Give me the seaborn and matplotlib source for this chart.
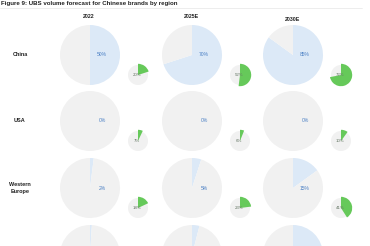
import matplotlib
matplotlib.use("Agg")
import matplotlib.pyplot as plt
import seaborn as sns

sns.set_theme(style="white")
plt.rcParams['font.family'] = ['Liberation Sans', 'DejaVu Sans']

title = "Figure 9: UBS volume forecast for Chinese brands by region"
years = ["2022", "2025E", "2030E"]
regions = ["China", "USA", "Western\nEurope", ""]
# big pie: share of Chinese brands in domestic market volume (%)
share_big = [
    [50, 70, 85],
    [0, 0, 0],
    [2, 5, 15],
    [1, 4, 25],
]
# small pie: Chinese brands share (%)
share_small = [
    [20, 52, 72],
    [7, 6, 10],
    [18, 23, 41],
    [10, 15, 30],
]

grey = "#f1f1f1"
blue = "#dce9f7"
green = "#66c95a"
lbl_blue = "#4a7fc4"
lbl_small = "#667766"

W, H = 370, 246
fig = plt.figure(figsize=(W / 100, H / 100), dpi=100)
ax = fig.add_axes([0, 0, 1, 1])

col_x = [90, 192, 293]
small_dx = 48
row_y = [55, 121, 188, 255]
R_big = 30
R_small = 10

def Y(y):
    return H - y

for i, reg in enumerate(regions):
    cy = row_y[i]
    visible = cy < 230
    if reg and visible:
        ax.text(20, Y(cy), reg, ha="center", va="center", fontsize=4.0,
                fontweight="bold", color="#222222", linespacing=1.5)
    for j, yr in enumerate(years):
        cx = col_x[j]
        p = share_big[i][j]
        ax.pie([p, 100 - p], colors=[blue, grey], radius=R_big, center=(cx, Y(cy)),
               startangle=90, counterclock=False, frame=True,
               wedgeprops=dict(linewidth=0))
        if visible:
            ax.text(cx + 12, Y(cy), f"{p}%", ha="center", va="center", fontsize=3.6,
                    color=lbl_blue)
        sx, sy = cx + small_dx, cy + 20
        q = share_small[i][j]
        ax.pie([100], colors=[grey], radius=R_small, center=(sx, Y(sy)),
               frame=True, wedgeprops=dict(linewidth=0))
        ax.pie([q, 100 - q], colors=[green, "none"], radius=R_small + 1.2,
               center=(sx, Y(sy)), startangle=90, counterclock=False, frame=True,
               wedgeprops=dict(linewidth=0))
        if visible:
            ax.text(sx - 1, Y(sy), f"{q}%", ha="center", va="center", fontsize=3.2,
                    color=lbl_small)

for j, yr in enumerate(years):
    ax.text(col_x[j] - 1, Y(17 if j < 2 else 19.5), yr, ha="center", va="center",
            fontsize=3.8, fontweight="bold", color="#222222")

ax.text(1, Y(3), title, ha="left", va="center", fontsize=4.4, fontweight="bold",
        color="#222222")
ax.plot([0, 362], [Y(8), Y(8)], color="#e6e6e6", linewidth=0.5)

ax.set_xlim(0, W)
ax.set_ylim(0, H)
ax.set_aspect("equal")
ax.axis("off")
fig.savefig("out.png", dpi=100)
